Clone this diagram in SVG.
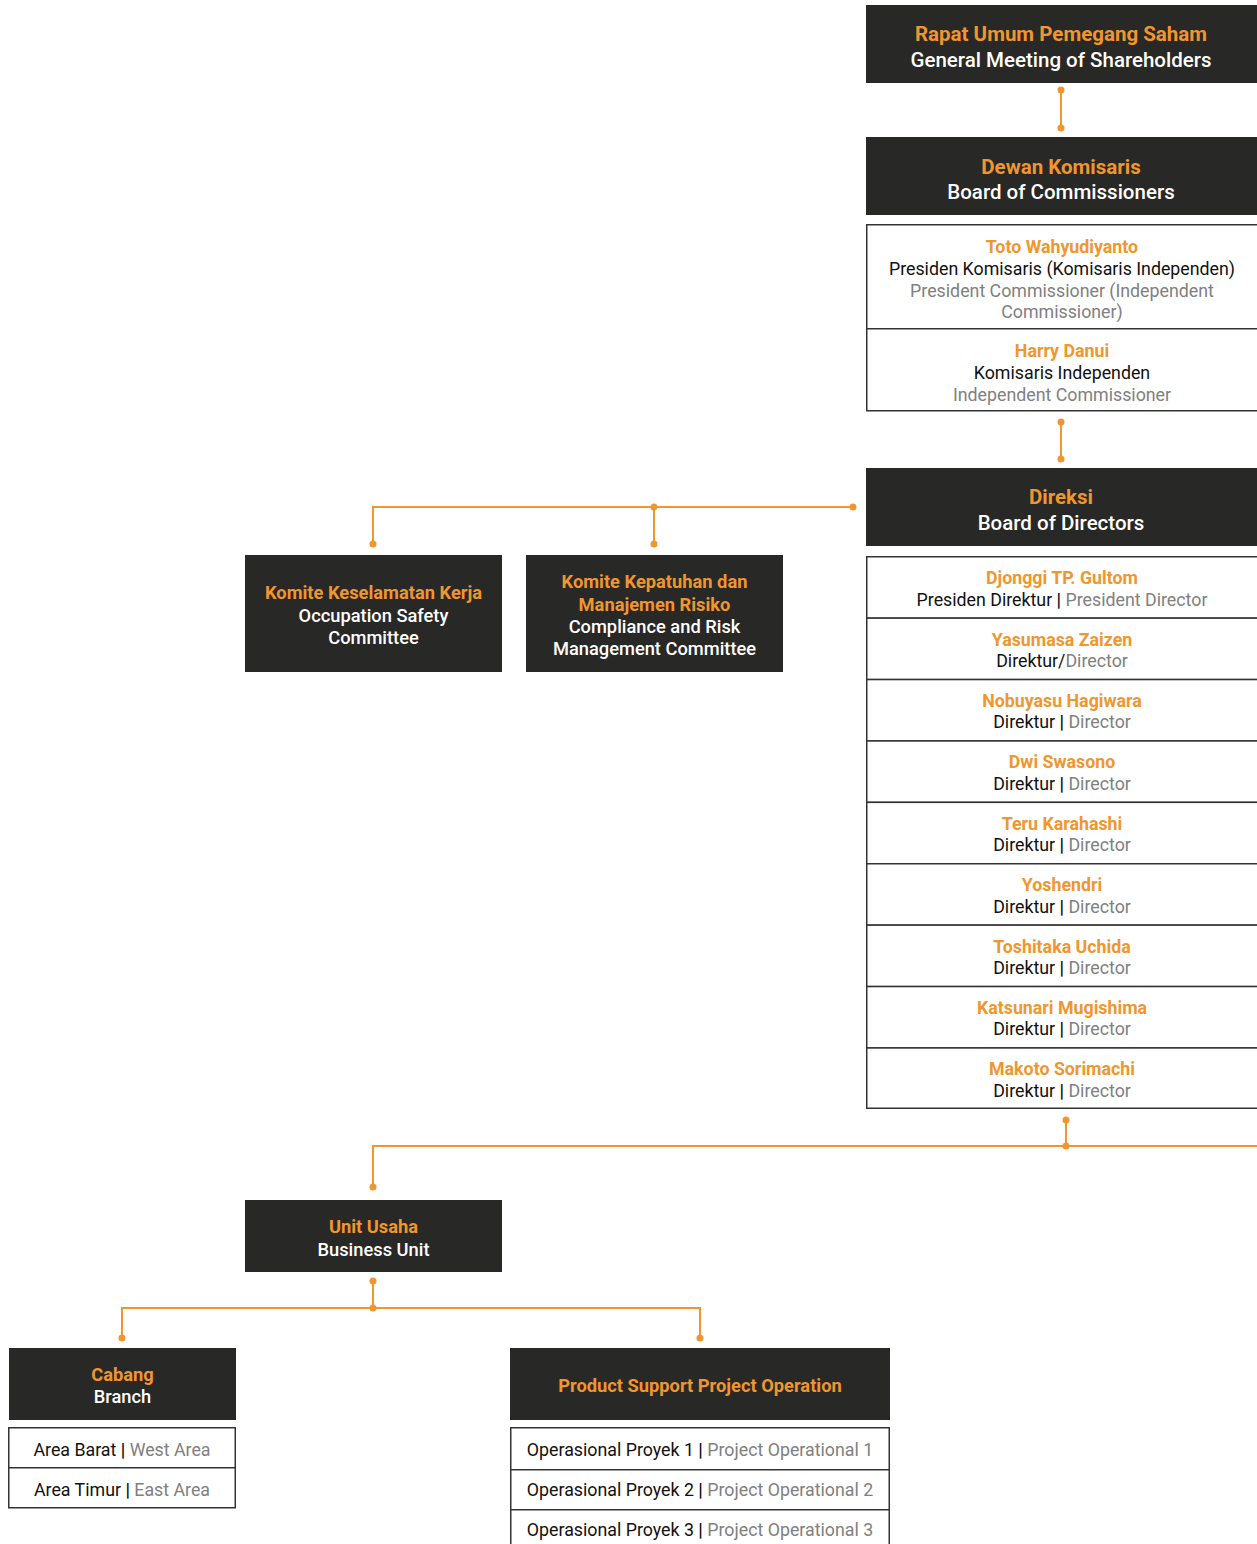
<svg xmlns="http://www.w3.org/2000/svg" width="1257" height="1544" viewBox="0 0 1257 1544">
<style>
text{font-family:Roboto,"Liberation Sans",sans-serif;text-anchor:middle}
.dark{fill:#282826}
.list{fill:#fff;stroke:#333;stroke-width:1.5}
.or{fill:#F0962E;font-weight:700}
.wh{fill:#fff;font-weight:500}
.bk{fill:#111}
.gr{fill:#808080}
.sep{font-weight:700;fill:#111}
.h1{font-size:20.5px}
.h2{font-size:18.3px}
.l{font-size:17.8px}
.conn{stroke:#F0962E;stroke-width:2;fill:none}
.dot{fill:#F0962E}
</style>
<rect width="1257" height="1544" fill="#fff"/>
<g id="connectors">
<path class="conn" d="M1061 90V128M1061 422V459M853 507H373V544M654 507V544M1066 1120V1146M373 1187V1146H1257M373 1281V1308M122 1338V1308H700V1338"/>
<g class="dot">
<circle cx="1061" cy="90" r="3.5"/><circle cx="1061" cy="128" r="3.5"/>
<circle cx="1061" cy="422" r="3.5"/><circle cx="1061" cy="459" r="3.5"/>
<circle cx="853" cy="507" r="3.5"/><circle cx="654" cy="507" r="3.5"/>
<circle cx="373" cy="544" r="3.5"/><circle cx="654" cy="544" r="3.5"/>
<circle cx="1066" cy="1120" r="3.5"/><circle cx="1066" cy="1146" r="3.5"/>
<circle cx="373" cy="1187" r="3.5"/><circle cx="373" cy="1281" r="3.5"/>
<circle cx="373" cy="1308" r="3.5"/><circle cx="122" cy="1338" r="3.5"/>
<circle cx="700" cy="1338" r="3.5"/>
</g>
</g>
<g id="gms">
<rect class="dark" x="866" y="5" width="391" height="78"/>
<text class="or h1" x="1061" y="41">Rapat Umum Pemegang Saham</text>
<text class="wh h1" x="1061" y="67">General Meeting of Shareholders</text>
</g>
<g id="boc">
<rect class="dark" x="866" y="137" width="391" height="78"/>
<text class="or h1" x="1061" y="174">Dewan Komisaris</text>
<text class="wh h1" x="1061" y="199">Board of Commissioners</text>
</g>
<g id="commissioners">
<rect class="list" x="866.75" y="224.75" width="395" height="104"/>
<rect class="list" x="866.75" y="328.75" width="395" height="82"/>
<text class="or l" x="1062" y="253">Toto Wahyudiyanto</text>
<text class="bk l" x="1062" y="275">Presiden Komisaris (Komisaris Independen)</text>
<text class="gr l" x="1062" y="297">President Commissioner (Independent</text>
<text class="gr l" x="1062" y="318">Commissioner)</text>
<text class="or l" x="1062" y="357">Harry Danui</text>
<text class="bk l" x="1062" y="379">Komisaris Independen</text>
<text class="gr l" x="1062" y="401">Independent Commissioner</text>
</g>
<g id="bod">
<rect class="dark" x="866" y="468" width="391" height="78"/>
<text class="or h1" x="1061" y="504">Direksi</text>
<text class="wh h1" x="1061" y="530">Board of Directors</text>
</g>
<g id="committee-safety">
<rect class="dark" x="245" y="555" width="257" height="117"/>
<text class="or h2" x="373.5" y="599">Komite Keselamatan Kerja</text>
<text class="wh h2" x="373.5" y="622">Occupation Safety</text>
<text class="wh h2" x="373.5" y="644">Committee</text>
</g>
<g id="committee-compliance">
<rect class="dark" x="526" y="555" width="257" height="117"/>
<text class="or h2" x="654.5" y="588">Komite Kepatuhan dan</text>
<text class="or h2" x="654.5" y="611">Manajemen Risiko</text>
<text class="wh h2" x="654.5" y="633">Compliance and Risk</text>
<text class="wh h2" x="654.5" y="655">Management Committee</text>
</g>
<g id="directors">
<rect class="list" x="866.75" y="556.75" width="395" height="61.4"/>
<rect class="list" x="866.75" y="618.15" width="395" height="61.4"/>
<rect class="list" x="866.75" y="679.55" width="395" height="61.4"/>
<rect class="list" x="866.75" y="740.95" width="395" height="61.4"/>
<rect class="list" x="866.75" y="802.35" width="395" height="61.4"/>
<rect class="list" x="866.75" y="863.75" width="395" height="61.4"/>
<rect class="list" x="866.75" y="925.15" width="395" height="61.4"/>
<rect class="list" x="866.75" y="986.55" width="395" height="61.4"/>
<rect class="list" x="866.75" y="1047.95" width="395" height="60.3"/>
<text class="or l" x="1062" y="584">Djonggi TP. Gultom</text>
<text class="l" x="1062" y="606"><tspan class="bk">Presiden Direktur </tspan><tspan class="sep">|</tspan><tspan class="gr"> President Director</tspan></text>
<text class="or l" x="1062" y="646">Yasumasa Zaizen</text>
<text class="l" x="1062" y="667"><tspan class="bk">Direktur/</tspan><tspan class="gr">Director</tspan></text>
<text class="or l" x="1062" y="707">Nobuyasu Hagiwara</text>
<text class="l" x="1062" y="728"><tspan class="bk">Direktur </tspan><tspan class="sep">|</tspan><tspan class="gr"> Director</tspan></text>
<text class="or l" x="1062" y="768">Dwi Swasono</text>
<text class="l" x="1062" y="790"><tspan class="bk">Direktur </tspan><tspan class="sep">|</tspan><tspan class="gr"> Director</tspan></text>
<text class="or l" x="1062" y="830">Teru Karahashi</text>
<text class="l" x="1062" y="851"><tspan class="bk">Direktur </tspan><tspan class="sep">|</tspan><tspan class="gr"> Director</tspan></text>
<text class="or l" x="1062" y="891">Yoshendri</text>
<text class="l" x="1062" y="913"><tspan class="bk">Direktur </tspan><tspan class="sep">|</tspan><tspan class="gr"> Director</tspan></text>
<text class="or l" x="1062" y="953">Toshitaka Uchida</text>
<text class="l" x="1062" y="974"><tspan class="bk">Direktur </tspan><tspan class="sep">|</tspan><tspan class="gr"> Director</tspan></text>
<text class="or l" x="1062" y="1014">Katsunari Mugishima</text>
<text class="l" x="1062" y="1035"><tspan class="bk">Direktur </tspan><tspan class="sep">|</tspan><tspan class="gr"> Director</tspan></text>
<text class="or l" x="1062" y="1075">Makoto Sorimachi</text>
<text class="l" x="1062" y="1097"><tspan class="bk">Direktur </tspan><tspan class="sep">|</tspan><tspan class="gr"> Director</tspan></text>
</g>
<g id="business-unit">
<rect class="dark" x="245" y="1200" width="257" height="72"/>
<text class="or h2" x="373.5" y="1233">Unit Usaha</text>
<text class="wh h2" x="373.5" y="1256">Business Unit</text>
</g>
<g id="branch">
<rect class="dark" x="9" y="1348" width="227" height="72"/>
<text class="or h2" x="122.5" y="1381">Cabang</text>
<text class="wh h2" x="122.5" y="1403">Branch</text>
<rect class="list" x="8.75" y="1427.75" width="226.5" height="40"/>
<rect class="list" x="8.75" y="1467.75" width="226.5" height="40"/>
<text class="l" x="122" y="1456"><tspan class="bk">Area Barat </tspan><tspan class="sep">|</tspan><tspan class="gr"> West Area</tspan></text>
<text class="l" x="122" y="1496"><tspan class="bk">Area Timur </tspan><tspan class="sep">|</tspan><tspan class="gr"> East Area</tspan></text>
</g>
<g id="psp-operation">
<rect class="dark" x="510" y="1348" width="380" height="72"/>
<text class="or h2" x="700" y="1392">Product Support Project Operation</text>
<rect class="list" x="510.75" y="1427.75" width="378.5" height="42"/>
<rect class="list" x="510.75" y="1469.75" width="378.5" height="40"/>
<rect class="list" x="510.75" y="1509.75" width="378.5" height="42"/>
<text class="l" x="700" y="1456"><tspan class="bk">Operasional Proyek 1 </tspan><tspan class="sep">|</tspan><tspan class="gr"> Project Operational 1</tspan></text>
<text class="l" x="700" y="1496"><tspan class="bk">Operasional Proyek 2 </tspan><tspan class="sep">|</tspan><tspan class="gr"> Project Operational 2</tspan></text>
<text class="l" x="700" y="1536"><tspan class="bk">Operasional Proyek 3 </tspan><tspan class="sep">|</tspan><tspan class="gr"> Project Operational 3</tspan></text>
</g>
</svg>
